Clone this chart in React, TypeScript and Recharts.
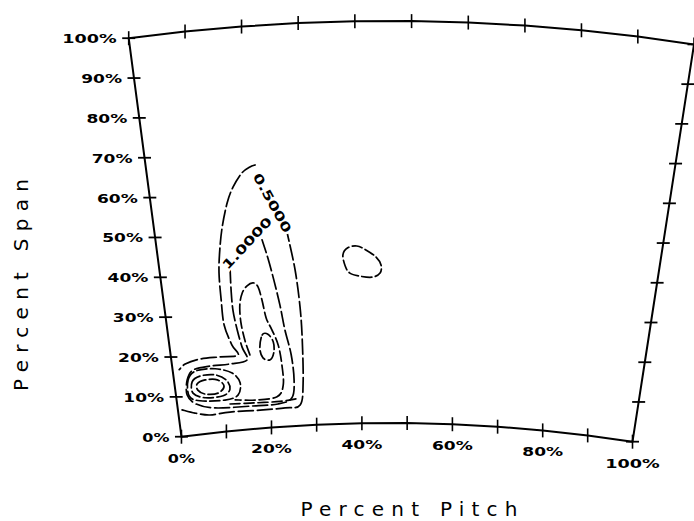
import React from "react";
import { ScatterChart, Scatter, XAxis, YAxis } from "recharts";

type Pt = [number, number]; // [pitch %, span %]

// ── AXES ─────────────────────────────────────────────────────
const spanTicks = [0, 10, 20, 30, 40, 50, 60, 70, 80, 90, 100];
const pitchTicks = [0, 10, 20, 30, 40, 50, 60, 70, 80, 90, 100];
const pitchLabels = [0, 20, 40, 60, 80, 100];

// ── LOSS CONTOURS ────────────────────────────────────────────
// 0.5 contour, hub side: wall -> along hub -> up the pressure side
const c050Hub: Pt[] = [
    [0.9, 6.6], [3.6, 5.4], [6.8, 4.5], [11.2, 4.7], [17.8, 4.5], [23.3, 4.6],
    [26.6, 5.1], [27.5, 10.5], [27.8, 21.2], [27.7, 29.4], [27.1, 38.7], [25.9, 48.3],
];
// 0.5 contour, over the top and back down to the wall
const c050Tip: Pt[] = [
    [20.6, 65.4], [19.6, 65.0], [18.0, 63.7], [16.1, 60.4], [14.7, 56.6], [13.3, 50.7],
    [12.4, 45.1], [11.8, 39.4], [11.7, 32.7], [11.8, 26.4], [13.0, 21.3], [14.1, 18.6],
    [10.3, 18.6], [6.0, 18.6], [2.8, 17.8], [1.4, 16.6],
];
const c100: Pt[] = [
    [14.1, 40.4], [13.9, 34.9], [13.9, 29.9], [14.4, 24.9], [15.1, 20.5], [15.9, 17.2],
    [12.2, 16.6], [8.0, 16.6], [4.3, 16.1], [2.8, 13.8], [2.4, 10.1], [4.1, 7.6],
    [8.1, 6.1], [15.7, 5.7], [21.8, 5.7], [24.9, 7.0], [25.6, 11.4], [25.3, 17.7],
    [24.3, 24.0], [23.6, 30.2], [22.7, 36.5], [21.8, 42.1], [20.9, 46.7],
];
const c150: Pt[] = [
    [16.6, 18.4], [15.8, 22.2], [15.3, 26.8], [15.4, 31.0], [16.1, 33.9], [17.2, 35.6],
    [18.5, 36.2], [19.4, 35.1], [20.0, 31.8], [20.6, 27.2], [21.6, 24.2], [22.7, 20.3],
    [23.2, 15.3], [23.2, 10.3], [21.7, 7.5], [16.9, 7.1], [12.6, 7.6],
];
const pocket: Pt[] = [
    [19.5, 23.1], [20.7, 23.2], [21.7, 21.2], [21.7, 18.7], [20.8, 16.8], [19.3, 17.4], [18.8, 19.9],
];
const vortexOuter: Pt[] = [
    [3.0, 13.8], [4.9, 15.8], [9.0, 15.8], [12.5, 14.3], [14.0, 11.7], [13.3, 8.7],
    [10.4, 7.8], [5.0, 8.3], [2.8, 9.8],
];
const vortexMid: Pt[] = [
    [3.8, 13.2], [5.6, 14.4], [8.8, 14.3], [11.1, 12.7], [11.7, 10.4], [10.1, 8.9],
    [6.2, 8.9], [3.7, 10.4],
];
const vortexCore: Pt[] = [
    [4.8, 12.5], [6.6, 13.3], [9.2, 13.0], [10.5, 11.3], [9.1, 9.7], [6.3, 9.8], [4.8, 11.0],
];
const floorLine: Pt[] = [[11.4, 6.7], [16.8, 6.4], [22.3, 6.3], [25.8, 6.7]];
const island: Pt[] = [
    [36.8, 42.0], [37.8, 43.7], [39.6, 44.1], [41.4, 43.1], [43.4, 41.3], [44.4, 39.3],
    [44.2, 37.3], [42.6, 36.3], [40.1, 36.6], [38.1, 37.4], [37.2, 39.2],
];

const contourLabels = [
    { text: "0.5000", pitch: 23.4, span: 55.7 },
    { text: "1.0000", pitch: 17.9, span: 46.2 },
];

// ── PASSAGE GEOMETRY ─────────────────────────────────────────
const W = 694;
const H = 521;
const CX = 389.7;      // machine axis, px
const CY = 2010;
const R_HUB = 1587;
const R_TIP = 1989;
const HALF = 0.1426;   // half pitch angle, rad
const TILT = 0.011;
const INK = "#000";

// plot box (0..100 on both axes) -> annular sector
const toFan = (px: number, py: number) => {
    const u = px / W;
    const v = 1 - py / H;
    const theta = TILT + (u - 0.5) * 2 * HALF;
    const r = R_HUB + v * (R_TIP - R_HUB);
    return { x: CX + r * Math.sin(theta), y: CY - r * Math.cos(theta) };
};

const rows = (pts: Pt[]) => pts.map(([pitch, span]) => ({ pitch, span }));

const smoothPath = (pts: { x: number; y: number }[], closed: boolean) => {
    const n = pts.length;
    if (n < 2) return "";
    const at = (i: number) => (closed ? pts[(i + n) % n] : pts[Math.max(0, Math.min(n - 1, i))]);
    let d = `M${pts[0].x},${pts[0].y}`;
    const segs = closed ? n : n - 1;
    for (let i = 0; i < segs; i++) {
        const p0 = at(i - 1), p1 = at(i), p2 = at(i + 1), p3 = at(i + 2);
        d += ` C${p1.x + (p2.x - p0.x) / 6},${p1.y + (p2.y - p0.y) / 6}`
            + ` ${p2.x - (p3.x - p1.x) / 6},${p2.y - (p3.y - p1.y) / 6} ${p2.x},${p2.y}`;
    }
    return closed ? d + " Z" : d;
};

const contourLine = (closed: boolean, dash: string) => (props: any) => {
    const pts = (props.points || []).map((p: any) => toFan(p.x, p.y));
    return (
        <path d={smoothPath(pts, closed)} fill="none" stroke={INK} strokeWidth={1.7}
            strokeDasharray={dash} strokeLinecap="round" />
    );
};

const frameLine = (props: any) => {
    const pts = (props.points || []).map((p: any) => toFan(p.x, p.y));
    const d = pts.map((p: any, i: number) => `${i ? "L" : "M"}${p.x},${p.y}`).join(" ") + " Z";
    return <path d={d} fill="none" stroke={INK} strokeWidth={2} strokeLinejoin="round" />;
};

const noMark = () => <g />;

const TickMark = (props: any) => {
    const { cx, cy, payload } = props;
    const p = toFan(cx, cy);
    if (payload.edge) {
        return <line x1={p.x - 6.5} x2={p.x + 6.5} y1={p.y} y2={p.y} stroke={INK} strokeWidth={1.8} />;
    }
    return <line x1={p.x} x2={p.x} y1={p.y - 7} y2={p.y + 7} stroke={INK} strokeWidth={1.6} />;
};

const labelFont = { fontFamily: "DejaVu Sans", fontWeight: 700, fontSize: 13 };

const SpanLabel = (props: any) => {
    const p = toFan(props.cx, props.cy);
    const text = `${props.payload.span}%`;
    return (
        <text x={p.x - 12} y={p.y + 5} textAnchor="end" fill={INK} {...labelFont}
            textLength={text.length * 13.6} lengthAdjust="spacingAndGlyphs">{text}</text>
    );
};

const PitchLabel = (props: any) => {
    const p = toFan(props.cx, props.cy);
    const text = `${props.payload.pitch}%`;
    return (
        <text x={p.x} y={p.y + 26} textAnchor="middle" fill={INK} {...labelFont}
            textLength={text.length * 13.6} lengthAdjust="spacingAndGlyphs">{text}</text>
    );
};

const labelAngle: Record<string, number> = { "0.5000": 61, "1.0000": -47 };

const ContourLabel = (props: any) => {
    const p = toFan(props.cx, props.cy);
    const text: string = props.payload.text;
    return (
        <text x={p.x} y={p.y} dy={4.5} textAnchor="middle" fill={INK} {...labelFont} fontSize={12.5}
            transform={`rotate(${labelAngle[text] ?? 0}, ${p.x}, ${p.y})`}
            textLength={text.length * 11} lengthAdjust="spacingAndGlyphs"
            stroke="#fff" strokeWidth={4} paintOrder="stroke">{text}</text>
    );
};

const frame = [
    ...spanTicks.map(span => ({ pitch: 0, span })),
    ...pitchTicks.slice(1).map(pitch => ({ pitch, span: 100 })),
    ...spanTicks.slice(0, -1).reverse().map(span => ({ pitch: 100, span })),
    ...pitchTicks.slice(1, -1).reverse().map(pitch => ({ pitch, span: 0 })),
];

const tickMarks = [
    ...spanTicks.map(span => ({ pitch: 0, span, edge: true })),
    ...spanTicks.map(span => ({ pitch: 100, span, edge: true })),
    ...pitchTicks.map(pitch => ({ pitch, span: 0, edge: false })),
    ...pitchTicks.map(pitch => ({ pitch, span: 100, edge: false })),
];

const openContours = [c050Hub, c050Tip, c100, c150, floorLine];
const closedContours = [pocket, vortexOuter, vortexMid, vortexCore, island];

export default function App() {
    return (
        <div style={{ position: "absolute", left: 0, top: 0, width: W, height: H, background: "#fff" }}>
            <ScatterChart width={W} height={H} margin={{ top: 0, right: 0, bottom: 0, left: 0 }}>
                <XAxis type="number" dataKey="pitch" domain={[0, 100]} hide />
                <YAxis type="number" dataKey="span" domain={[0, 100]} hide />

                <Scatter data={frame} line={frameLine} lineType="joint" shape={noMark} isAnimationActive={false} />
                <Scatter data={tickMarks} shape={TickMark} isAnimationActive={false} />

                {openContours.map((c, i) => (
                    <Scatter key={`o${i}`} data={rows(c)} line={contourLine(false, i < 3 ? "15 4" : "10 4")}
                        lineType="joint" shape={noMark} isAnimationActive={false} />
                ))}
                {closedContours.map((c, i) => (
                    <Scatter key={`c${i}`} data={rows(c)} line={contourLine(true, "10 3.5")}
                        lineType="joint" shape={noMark} isAnimationActive={false} />
                ))}

                <Scatter data={contourLabels} shape={ContourLabel} isAnimationActive={false} />
                <Scatter data={spanTicks.map(span => ({ pitch: 0, span }))} shape={SpanLabel} isAnimationActive={false} />
                <Scatter data={pitchLabels.map(pitch => ({ pitch, span: 0 }))} shape={PitchLabel} isAnimationActive={false} />
            </ScatterChart>

            <svg width={W} height={H} style={{ position: "absolute", left: 0, top: 0, pointerEvents: "none" }}>
                <text x={409} y={516} textAnchor="middle" fontFamily="DejaVu Sans" fontSize={20} fill={INK}
                    textLength={217}>Percent Pitch</text>
                <text transform="translate(28, 285) rotate(-90)" textAnchor="middle" fontFamily="DejaVu Sans"
                    fontSize={20} fill={INK} textLength={212}>Percent Span</text>
            </svg>
        </div>
    );
}
